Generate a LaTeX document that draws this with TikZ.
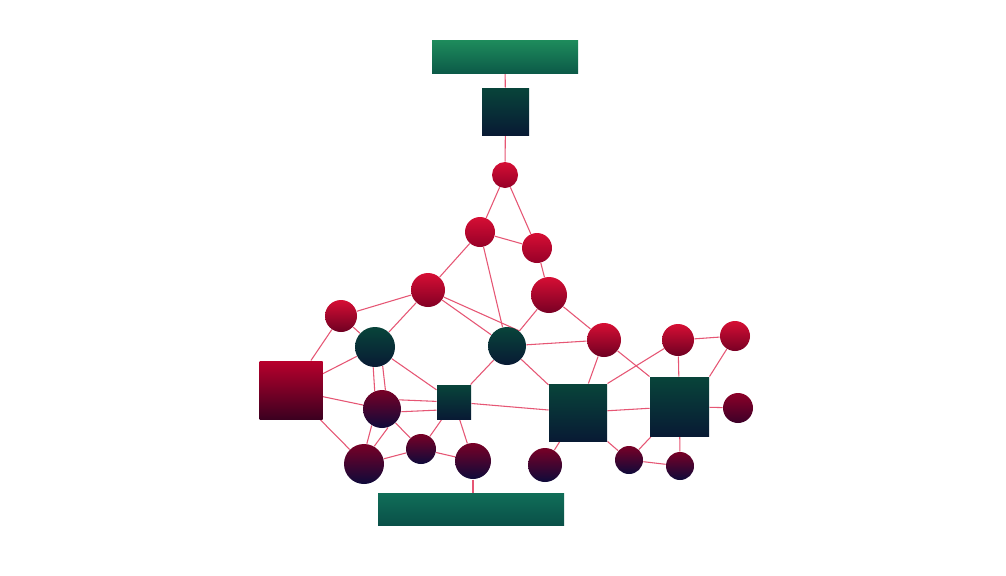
\documentclass[tikz,border=0pt]{standalone}
\usetikzlibrary{backgrounds}

\definecolor{linkred}{RGB}{230,86,116}
\definecolor{ballhi}{RGB}{214,14,52}
\definecolor{balllo}{RGB}{150,0,40}
\definecolor{deephi}{RGB}{120,0,38}
\definecolor{deeplo}{RGB}{14,10,58}
\definecolor{pinehi}{RGB}{8,68,58}
\definecolor{pinelo}{RGB}{8,26,52}
\definecolor{barhi}{RGB}{30,140,92}
\definecolor{barlo}{RGB}{12,90,72}

\tikzset{every picture/.style={line width=0.75pt}}
\tikzset{
  ball/.style={circle, draw=none, inner sep=0pt, minimum size=#1*1.5pt, top color=ballhi, bottom color=balllo},
  deepball/.style={circle, draw=none, inner sep=0pt, minimum size=#1*1.5pt, top color=deephi, bottom color=deeplo},
  pineball/.style={circle, draw=none, inner sep=0pt, minimum size=#1*1.5pt, top color=pinehi, bottom color=pinelo},
  pinebox/.style={rectangle, draw=none, inner sep=0pt, minimum size=#1*0.75pt, top color=pinehi, bottom color=pinelo},
  bar/.style={rectangle, draw=none, inner sep=0pt, minimum height=33*0.75pt, top color=barhi, bottom color=barlo},
  link/.style={draw=linkred, line width=0.8pt}
}

\begin{document}
\begin{tikzpicture}[x=0.75pt,y=0.75pt,yscale=-1,xscale=1]
    \useasboundingbox (0,0) rectangle (1006,575);

    %Bars
    \node [bar, minimum width=146*0.75pt] (topbar) at (505, 56.5) {};
    \node [bar, minimum width=186*0.75pt, minimum height=32*0.75pt,
           top color={rgb,255:red,16;green,110;blue,88}, bottom color={rgb,255:red,10;green,80;blue,72}] (lowbar) at (471, 509) {};

    %Squares
    \node [pinebox=47] (topsq) at (505.5, 111.5) {};
    \node [rectangle, draw=none, inner sep=0pt, minimum width=63*0.75pt, minimum height=58*0.75pt,
           top color={rgb,255:red,184;green,0;blue,44}, bottom color={rgb,255:red,60;green,0;blue,32}] (redsq) at (291, 390) {};
    \node [pinebox=34] (smallsq) at (454, 402) {};
    \node [pinebox=58, minimum height=57*0.75pt] (midsq) at (578, 412.5) {};
    \node [pinebox=59] (rightsq) at (679.5, 406.5) {};

    %Red circles
    \node [ball=13] (a) at (505, 175) {};
    \node [ball=15] (b) at (480, 232) {};
    \node [ball=15] (c) at (537, 248) {};
    \node [ball=17, bottom color={rgb,255:red,130;green,0;blue,36}] (d) at (428, 290) {};
    \node [ball=18, bottom color={rgb,255:red,120;green,0;blue,36}] (e) at (549, 295) {};
    \node [ball=16, bottom color={rgb,255:red,110;green,0;blue,34}] (f) at (341, 316) {};
    \node [ball=17, bottom color={rgb,255:red,110;green,0;blue,34}] (i) at (604, 340) {};
    \node [ball=16, bottom color={rgb,255:red,110;green,0;blue,34}] (j) at (678, 340) {};
    \node [ball=15, bottom color={rgb,255:red,120;green,0;blue,36}] (k) at (735, 336) {};

    %Dark green circles
    \node [pineball=20] (g) at (375, 347) {};
    \node [pineball=19] (h) at (507, 346) {};

    %Deep circles
    \node [deepball=19] (m) at (382, 409) {};
    \node [deepball=15, top color={rgb,255:red,140;green,0;blue,40}, bottom color={rgb,255:red,60;green,0;blue,40}] (q) at (738, 408) {};
    \node [deepball=20] (r) at (364, 464) {};
    \node [deepball=15] (s) at (421, 449) {};
    \node [deepball=18] (t) at (473, 461) {};
    \node [deepball=17] (u) at (545, 465) {};
    \node [deepball=14] (v) at (629, 460) {};
    \node [deepball=14] (w) at (680, 466) {};

    %Links
    \begin{scope}[on background layer]
      \fill [white] (0,0) rectangle (1006,575);
      \draw [link] (topbar) -- (topsq);
      \draw [link] (topsq) -- (a);
      \draw [link] (a) -- (b);
      \draw [link] (a) -- (c);
      \draw [link] (b) -- (c);
      \draw [link] (b) -- (d);
      \draw [link] (b) -- (h);
      \draw [link] (c) -- (e);
      \draw [link] (d) -- (f);
      \draw [link] (d) -- (g);
      \draw [link] (d) -- (h);
      \draw [link] (d) -- (h.51);
      \draw [link] (e) -- (h);
      \draw [link] (e) -- (i);
      \draw [link] (f) -- (redsq);
      \draw [link] (f) -- (g);
      \draw [link] (g) -- (redsq);
      \draw [link] (g.265) -- (m.112);
      \draw [link] (g.292) -- (m.80);
      \draw [link] (g) -- (smallsq);
      \draw [link] (redsq) -- (m);
      \draw [link] (redsq) -- (r);
      \draw [link] (m.28) -- (smallsq.178);
      \draw [link] (m.-8) -- (smallsq.205);
      \draw [link] (m.238) -- (r.82);
      \draw [link] (m.288) -- (r.60);
      \draw [link] (m) -- (s);
      \draw [link] (r) -- (s);
      \draw [link] (s) -- (smallsq);
      \draw [link] (s) -- (t);
      \draw [link] (smallsq) -- (t);
      \draw [link] (t) -- (t |- lowbar.north);
      \draw [link] (smallsq) -- (midsq);
      \draw [link] (smallsq) -- (h);
      \draw [link] (h) -- (midsq);
      \draw [link] (h) -- (i);
      \draw [link] (i) -- (midsq);
      \draw [link] (i) -- (rightsq.north west);
      \draw [link] (midsq.north east) -- (j);
      \draw [link] (midsq) -- (rightsq);
      \draw [link] (midsq.south east) -- (v);
      \draw [link] (midsq) -- (u);
      \draw [link] (rightsq) -- (v);
      \draw [link] (v) -- (w);
      \draw [link] (rightsq) -- (w);
      \draw [link] (rightsq) -- (j);
      \draw [link] (j) -- (k);
      \draw [link] (k) -- (rightsq.north east);
      \draw [link] (rightsq) -- (q);
    \end{scope}
\end{tikzpicture}
\end{document}
